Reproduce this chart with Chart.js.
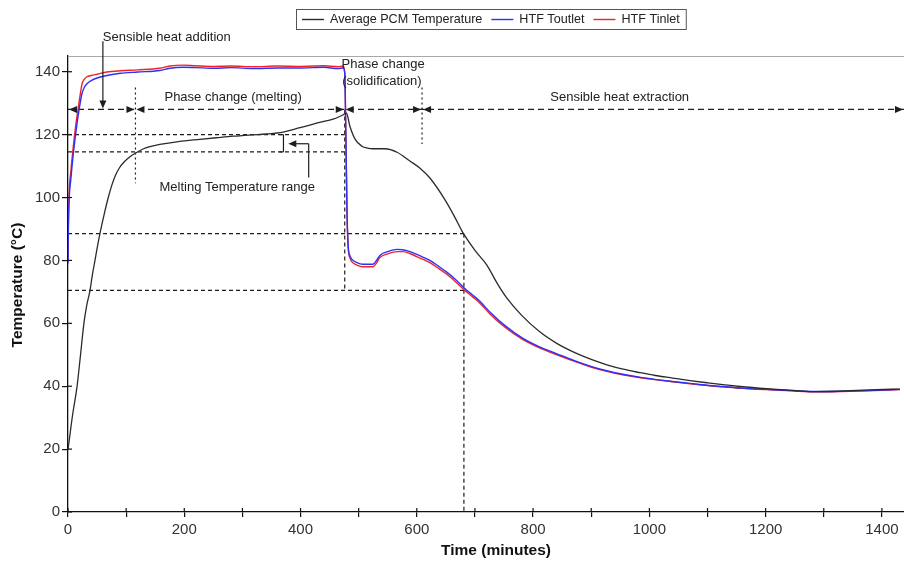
<!DOCTYPE html>
<html>
<head>
<meta charset="utf-8">
<script src="https://cdn.jsdelivr.net/npm/chart.js@4.4.1/dist/chart.umd.min.js"></script>
<style>
  html, body { margin: 0; padding: 0; background: #fff; }
  #wrap { width: 904px; height: 566px; }
</style>
</head>
<body>
<div id="wrap"><canvas id="c" width="904" height="566"></canvas></div>
<script>
// ---- Series: time (minutes) and temperature (°C) ----
const pcmTime = [0, 4, 8, 15.5, 21, 27.5, 32, 37.8, 42, 46.4, 51, 55, 62, 68.8, 75, 80.8, 88, 96, 106, 118.7, 130, 141, 158, 190, 227, 255, 284, 315, 342, 370, 399, 433, 456, 470, 479, 485, 494, 505.6, 515, 524.5, 545, 566, 588, 605, 622.5, 648, 665.5, 679, 700, 720.5, 738, 755, 780, 812, 840, 868, 900, 927, 955, 984, 1010, 1040, 1070, 1099, 1130, 1156, 1202, 1259, 1288, 1320, 1345, 1390, 1431];
const pcmTemp = [19.8, 25.5, 31, 39.8, 49, 60.2, 65.5, 70.4, 75.5, 80, 84.8, 88.6, 94.5, 99.7, 103.7, 106.7, 109.3, 111.2, 112.9, 114.4, 115.5, 116.2, 116.9, 117.8, 118.5, 119, 119.5, 119.9, 120.2, 120.8, 122.2, 123.9, 124.9, 126, 126.8, 122.6, 118.5, 116.3, 115.7, 115.5, 115.5, 114.4, 111.6, 109.4, 106.2, 99.4, 93.7, 88.9, 83.2, 78.5, 72.8, 68, 62.6, 57.2, 53.7, 51, 48.5, 46.8, 45.4, 44.3, 43.4, 42.6, 41.8, 41.1, 40.4, 39.9, 39.2, 38.5, 38.3, 38.4, 38.6, 38.9, 39.1];

const htfTime = [0, 0.5, 1.7, 5, 8.6, 12, 15.5, 20, 24, 28, 32.7, 40, 50, 67, 90, 120, 158, 175, 198, 220, 250, 280, 320, 360, 400, 440, 465, 473, 476, 478, 480, 482, 485, 488, 497, 507, 524.5, 530, 536.5, 550, 566, 576, 588, 600, 611, 622.5, 637, 652, 668, 683, 696, 708.5, 725.7, 750, 782.5, 810, 841, 870, 898, 925, 954, 985, 1013, 1040, 1070, 1100, 1126, 1160, 1202, 1245, 1288, 1330, 1374, 1431];
const outletTemp = [79, 88, 98, 106, 113, 118.5, 123.5, 129, 133, 135, 136.2, 137.2, 138, 138.8, 139.5, 139.9, 140.4, 141.1, 141.4, 141.3, 141.1, 141.3, 141.0, 141.2, 141.2, 141.4, 141.0, 141.2, 139.5, 119, 94.5, 84.5, 81.5, 80.4, 79.3, 78.8, 78.8, 79.8, 81.6, 82.8, 83.5, 83.4, 82.8, 81.9, 81, 80, 78.2, 76.2, 73.7, 71, 69, 67, 63.6, 59.5, 55.2, 52.6, 50.3, 48.2, 46.4, 45, 43.8, 42.8, 42.1, 41.5, 40.9, 40.3, 39.9, 39.4, 39, 38.6, 38.3, 38.4, 38.6, 39];
const inletTemp = [80, 90, 100.3, 108.5, 115.3, 121, 125.8, 131.5, 136, 137.6, 138.4, 138.8, 139.2, 139.9, 140.3, 140.6, 141.1, 141.8, 142.1, 141.9, 141.7, 141.8, 141.6, 141.8, 141.7, 141.9, 141.6, 141.8, 140, 120, 95, 84, 80.8, 79.6, 78.5, 78, 78, 79, 80.9, 82.1, 82.8, 82.8, 82.2, 81.2, 80.3, 79.3, 77.5, 75.5, 73, 70.4, 68.4, 66.4, 63, 59, 54.8, 52.3, 50, 48, 46.2, 44.8, 43.6, 42.7, 42, 41.4, 40.8, 40.2, 39.8, 39.3, 38.9, 38.5, 38.2, 38.3, 38.5, 38.9];

const seriesNames = ['Average PCM Temperature', 'HTF Toutlet', 'HTF Tinlet'];

// ---- Axes ----
const TIME_MAX = 1438;
const TEMP_MAX = 145;
const timeTicks = [0, 100, 200, 300, 400, 500, 600, 700, 800, 900, 1000, 1100, 1200, 1300, 1400];
const tempTicks = [0, 20, 40, 60, 80, 100, 120, 140];

// ---- Process stages and reference levels (data units) ----
const stageLevel = 128;
const stageBreaks = [0, 116, 476, 609];
const meltRange = [114.5, 120];
const solidEnd = 476;
const crossTemps = [88.5, 70.5];
const crossTime = 681;

const FONT = '"Liberation Sans", Arial, Helvetica, sans-serif';
const INK = '#1e1e1e';

function toPoints(xs, ys) { return xs.map((x, i) => ({ x, y: ys[i] })); }

function seg(ctx, x1, y1, x2, y2, dash) {
  ctx.save();
  ctx.setLineDash(dash || []);
  ctx.beginPath();
  ctx.moveTo(x1, y1);
  ctx.lineTo(x2, y2);
  ctx.stroke();
  ctx.restore();
}

function head(ctx, x, y, dir, len, half) {
  len = len || 8; half = half || 3.5;
  ctx.beginPath();
  if (dir === 'left') { ctx.moveTo(x, y); ctx.lineTo(x + len, y - half); ctx.lineTo(x + len, y + half); }
  else if (dir === 'right') { ctx.moveTo(x, y); ctx.lineTo(x - len, y - half); ctx.lineTo(x - len, y + half); }
  else if (dir === 'down') { ctx.moveTo(x, y); ctx.lineTo(x - half, y - len); ctx.lineTo(x + half, y - len); }
  ctx.closePath();
  ctx.fill();
}

const guides = {
  id: 'guides',
  beforeDatasetsDraw(chart) {
    const { ctx, chartArea: a } = chart;
    const X = v => chart.scales.x.getPixelForValue(v);
    const Y = v => chart.scales.y.getPixelForValue(v);
    ctx.save();
    ctx.lineWidth = 1.2;

    // frame line along the top of the plot
    ctx.strokeStyle = '#a8a8a8';
    seg(ctx, a.left, a.top + 0.5, a.right, a.top + 0.5);
    ctx.strokeStyle = INK;

    // stage line
    const ys = Y(stageLevel);
    seg(ctx, a.left, ys, a.right, ys, [6, 4]);

    // stage boundary markers
    seg(ctx, X(stageBreaks[1]), Y(135), X(stageBreaks[1]), Y(104.5), [2, 3]);
    seg(ctx, X(stageBreaks[3]), Y(135), X(stageBreaks[3]), Y(117), [2, 3]);

    // melting range levels
    seg(ctx, a.left, Y(meltRange[1]), X(solidEnd), Y(meltRange[1]), [4, 3]);
    seg(ctx, a.left, Y(meltRange[0]), X(solidEnd), Y(meltRange[0]), [4, 3]);

    // end of melting, down to the HTF level
    seg(ctx, X(solidEnd), ys, X(solidEnd), Y(crossTemps[1]), [4, 3]);

    // crossing levels
    seg(ctx, a.left, Y(crossTemps[0]), X(crossTime), Y(crossTemps[0]), [4, 3]);
    seg(ctx, a.left, Y(crossTemps[1]), X(crossTime), Y(crossTemps[1]), [4, 3]);
    seg(ctx, X(crossTime), Y(crossTemps[0]), X(crossTime), a.bottom, [4, 3]);
    ctx.restore();
  },
  afterDraw(chart) {
    const { ctx, chartArea: a } = chart;
    const xs = chart.scales.x, yscale = chart.scales.y;
    const X = v => xs.getPixelForValue(v);
    const Y = v => yscale.getPixelForValue(v);
    ctx.save();
    ctx.strokeStyle = '#111';
    ctx.fillStyle = INK;
    ctx.lineWidth = 1.2;

    // inner halves of the tick marks
    xs.ticks.forEach(t => seg(ctx, X(t.value), a.bottom, X(t.value), a.bottom - 4));
    yscale.ticks.forEach(t => seg(ctx, a.left, Y(t.value), a.left + 4, Y(t.value)));

    // arrowheads on the stage line
    const ys = Y(stageLevel);
    head(ctx, a.left + 1, ys, 'left');
    stageBreaks.slice(1).forEach(b => {
      head(ctx, X(b) - 1, ys, 'right');
      head(ctx, X(b) + 1, ys, 'left');
    });
    head(ctx, a.right - 1, ys, 'right');

    // pointer for sensible heat addition
    ctx.strokeStyle = INK;
    seg(ctx, X(60), Y(149.7), X(60), ys - 6);
    head(ctx, X(60), ys - 1, 'down');

    // melting temperature bracket and pointer
    const bx = X(370.6);
    seg(ctx, bx, Y(meltRange[1]), bx, Y(meltRange[0]));
    seg(ctx, bx - 4, Y(meltRange[1]), bx, Y(meltRange[1]));
    seg(ctx, bx - 4, Y(meltRange[0]), bx, Y(meltRange[0]));
    const ay = Y(117.1);
    seg(ctx, X(414), ay, X(380) + 6, ay);
    head(ctx, X(379), ay, 'left');
    seg(ctx, X(414), ay, X(414), Y(106.4));

    // stage texts
    ctx.font = `13px ${FONT}`;
    ctx.fillStyle = '#222';
    ctx.textAlign = 'center';
    ctx.textBaseline = 'middle';
    ctx.fillText('Sensible heat addition', X(170), Y(150.8));
    ctx.fillText('Phase change (melting)', X(284), Y(131.9));
    ctx.fillText('Phase change', X(542), Y(142.4));
    ctx.fillText('(solidification)', X(540), Y(137));
    ctx.fillText('Sensible heat extraction', X(949), Y(131.9));
    ctx.fillText('Melting Temperature range', X(291), Y(103.2));

    // axis titles
    ctx.font = `bold 15.5px ${FONT}`;
    ctx.fillStyle = '#111';
    ctx.fillText('Time (minutes)', 496, 551);
    ctx.save();
    ctx.translate(18, 285);
    ctx.rotate(-Math.PI / 2);
    ctx.fillText('Temperature (°C)', 0, 0);
    ctx.restore();

    // legend
    ctx.font = `12.6px ${FONT}`;
    const LINE = 22, GAP = 6, SEP = 9, PADX = 6;
    const items = chart.data.datasets.map(d => ({ label: d.label, color: d.borderColor, w: ctx.measureText(d.label).width }));
    let total = PADX * 2 + SEP * (items.length - 1);
    items.forEach(it => { total += LINE + GAP + it.w; });
    const left = Math.round(490.5 - total / 2), top = 9, h = 20;
    ctx.strokeStyle = '#555';
    ctx.lineWidth = 1;
    ctx.strokeRect(left + 0.5, top + 0.5, total, h);
    let cx = left + PADX;
    const cy = top + h / 2 + 0.5;
    ctx.textAlign = 'left';
    items.forEach(it => {
      ctx.strokeStyle = it.color;
      ctx.lineWidth = 1.4;
      seg(ctx, cx, cy, cx + LINE, cy);
      cx += LINE + GAP;
      ctx.fillStyle = '#222';
      ctx.fillText(it.label, cx, cy + 0.5);
      cx += it.w + SEP;
    });
    ctx.restore();
  }
};

new Chart(document.getElementById('c'), {
  type: 'line',
  data: {
    datasets: [
      { label: seriesNames[0], data: toPoints(pcmTime, pcmTemp), borderColor: '#2b2b2b', borderWidth: 1.3 },
      { label: seriesNames[1], data: toPoints(htfTime, outletTemp), borderColor: '#2f2ff5', borderWidth: 1.4 },
      { label: seriesNames[2], data: toPoints(htfTime, inletTemp), borderColor: '#ee2428', borderWidth: 1.4 }
    ]
  },
  options: {
    responsive: false,
    animation: false,
    devicePixelRatio: 1,
    layout: { padding: { top: 56, left: 0, right: 0, bottom: 0 } },
    plugins: { legend: { display: false }, tooltip: { enabled: false } },
    elements: { point: { radius: 0 }, line: { cubicInterpolationMode: 'monotone', fill: false } },
    scales: {
      x: {
        type: 'linear', min: 0, max: TIME_MAX,
        afterBuildTicks: s => { s.ticks = timeTicks.map(v => ({ value: v })); },
        afterFit: s => { s.height = 54; },
        ticks: {
          autoSkip: false, maxRotation: 0, minRotation: 0, padding: 4, color: '#333',
          font: { family: FONT, size: 15 },
          callback: v => (v % 200 === 0 ? String(v) : '')
        },
        grid: { drawOnChartArea: false, drawTicks: true, tickLength: 5, color: '#111', lineWidth: 1.2 },
        border: { display: true, color: '#111', width: 1.3 }
      },
      y: {
        type: 'linear', min: 0, max: TEMP_MAX,
        afterBuildTicks: s => { s.ticks = tempTicks.map(v => ({ value: v })); },
        afterFit: s => { s.width = 68; },
        ticks: {
          autoSkip: false, padding: 2, color: '#333',
          font: { family: FONT, size: 15 },
          callback: v => String(v)
        },
        grid: { drawOnChartArea: false, drawTicks: true, tickLength: 6, color: '#111', lineWidth: 1.2 },
        border: { display: true, color: '#111', width: 1.3 }
      }
    }
  },
  plugins: [guides]
});
</script>
</body>
</html>
